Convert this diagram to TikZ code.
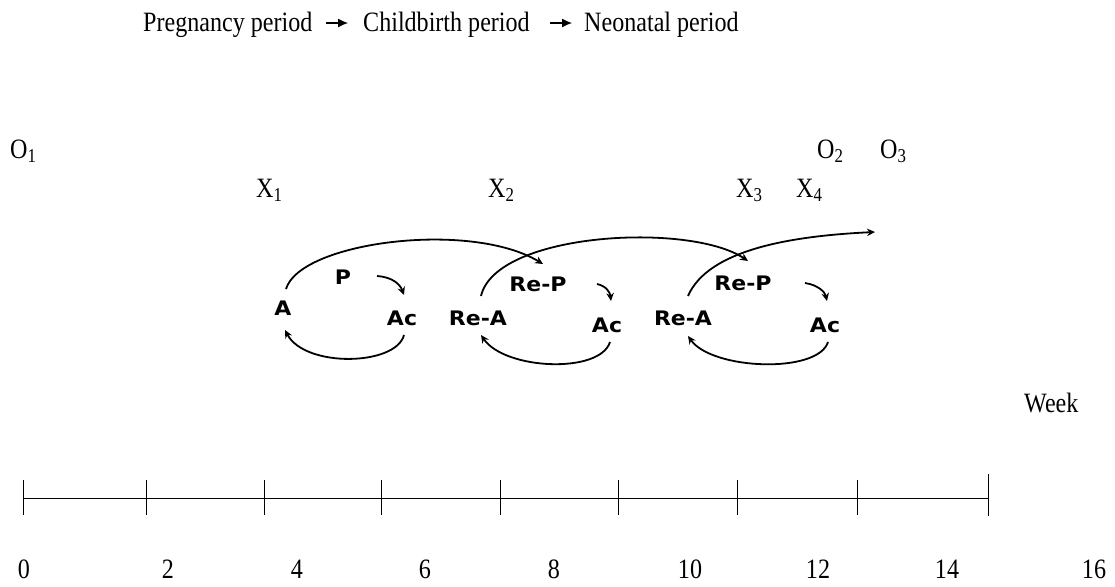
\documentclass[tikz,border=0pt]{standalone}
\usepackage{fontspec}
\setmainfont{Liberation Serif}
\newfontfamily\lblfont{DejaVu Sans}[BoldFont={DejaVu Sans Bold}]
\usetikzlibrary{arrows.meta}
\tikzset{
  tt/.style={inner sep=0pt, font=\fontsize{28}{33}\selectfont},
  lbl/.style={inner sep=0pt, font=\lblfont\bfseries\fontsize{20}{23}\selectfont},
  titlearrow/.style={line width=1.1pt, -{Latex[length=10pt,width=9pt]}},
  loopline/.style={line width=1.8pt, -{Stealth[length=8pt,width=7.5pt]}},
  axisline/.style={line width=1pt},
  tickline/.style={line width=1pt},
}
\newcommand{\wl}[1]{\scalebox{1.1}[1]{#1}}
\newcommand{\cn}[1]{\scalebox{0.86}[1]{#1}}
\begin{document}
\begin{tikzpicture}[x=1pt,y=-1pt]
\useasboundingbox (0,0) rectangle (1115,586);
% title
\node[tt, anchor=base west] (preg) at (143,32) {\cn{Pregnancy period}};
\node[tt, anchor=base west] (child) at (363,32) {\cn{Childbirth period}};
\node[tt, anchor=base west] (neo) at (584,32) {\cn{Neonatal period}};
\coordinate (ta1s) at (326,23); \coordinate (ta1e) at (348,23);
\coordinate (ta2s) at (550,23); \coordinate (ta2e) at (572,23);
\draw[titlearrow] (ta1s) -- (ta1e);
\draw[titlearrow] (ta2s) -- (ta2e);
% O and X labels
\node[tt, anchor=base west] (o1) at (10,158) {\cn{O\textsubscript{1}}};
\node[tt, anchor=base west] (o2) at (817,158) {\cn{O\textsubscript{2}}};
\node[tt, anchor=base west] (o3) at (880,158) {\cn{O\textsubscript{3}}};
\node[tt, anchor=base west] (x1) at (256,197) {\cn{X\textsubscript{1}}};
\node[tt, anchor=base west] (x2) at (488,197) {\cn{X\textsubscript{2}}};
\node[tt, anchor=base west] (x3) at (736,197) {\cn{X\textsubscript{3}}};
\node[tt, anchor=base west] (x4) at (796,197) {\cn{X\textsubscript{4}}};
\node[tt, anchor=base west] (week) at (1024,412) {\cn{Week}};
% loop labels
\node[lbl] (A) at (283,308) {\wl{A}};
\node[lbl] (P) at (343,277) {\wl{P}};
\node[lbl] (Ac1) at (402,318) {\wl{Ac}};
\node[lbl] (ReA1) at (478,318) {\wl{Re-A}};
\node[lbl] (ReP1) at (538,284) {\wl{Re-P}};
\node[lbl] (Ac2) at (607,325) {\wl{Ac}};
\node[lbl] (ReA2) at (683,318) {\wl{Re-A}};
\node[lbl] (ReP2) at (743,283) {\wl{Re-P}};
\node[lbl] (Ac3) at (825,325) {\wl{Ac}};
% loop arrows
\coordinate (b1s) at (286,289); \coordinate (b1e) at (543,264);
\draw[loopline] (b1s) .. controls (300,242) and (470,220) .. (b1e);
\coordinate (s1s) at (377,276); \coordinate (s1e) at (404,295);
\draw[loopline] (s1s) .. controls (392,277) and (400,284) .. (s1e);
\coordinate (l1s) at (404,335); \coordinate (l1e) at (285,330);
\draw[loopline] (l1s) .. controls (396,366) and (305,368) .. (l1e);
\coordinate (b2s) at (481,296); \coordinate (b2e) at (748,261);
\draw[loopline] (b2s) .. controls (496,232) and (690,222) .. (b2e);
\coordinate (s2s) at (597,284); \coordinate (s2e) at (611,301);
\draw[loopline] (s2s) .. controls (606,286) and (610,292) .. (s2e);
\coordinate (l2s) at (610,342); \coordinate (l2e) at (481,335);
\draw[loopline] (l2s) .. controls (600,374) and (505,370) .. (l2e);
\coordinate (b3s) at (688,296); \coordinate (b3e) at (875,232);
\draw[loopline] (b3s) .. controls (708,250) and (790,236) .. (b3e);
\coordinate (s3s) at (805,283); \coordinate (s3e) at (827,301);
\draw[loopline] (s3s) .. controls (818,285) and (825,292) .. (s3e);
\coordinate (l3s) at (828,342); \coordinate (l3e) at (688,336);
\draw[loopline] (l3s) .. controls (818,374) and (712,370) .. (l3e);
% axis
\coordinate (ax0) at (23,498); \coordinate (ax1) at (988,498);
\draw[axisline] (ax0) -- (ax1);
\foreach \t/\xx in {t0/23,t2/146,t4/264,t6/381,t8/500,t10/618,t12/737,t14/857}{
  \coordinate (\t a) at (\xx,480); \coordinate (\t b) at (\xx,515);
  \draw[tickline] (\t a) -- (\t b);
}
\coordinate (t16a) at (988,474); \coordinate (t16b) at (988,516);
\draw[tickline] (t16a) -- (t16b);
% numbers
\foreach \n/\xx in {0/24,2/168,4/297,6/425,8/554,10/690,12/818,14/947,16/1094}{
  \node[tt, anchor=base] (n\n) at (\xx,578) {\cn{\n}};
}
\end{tikzpicture}
\end{document}
